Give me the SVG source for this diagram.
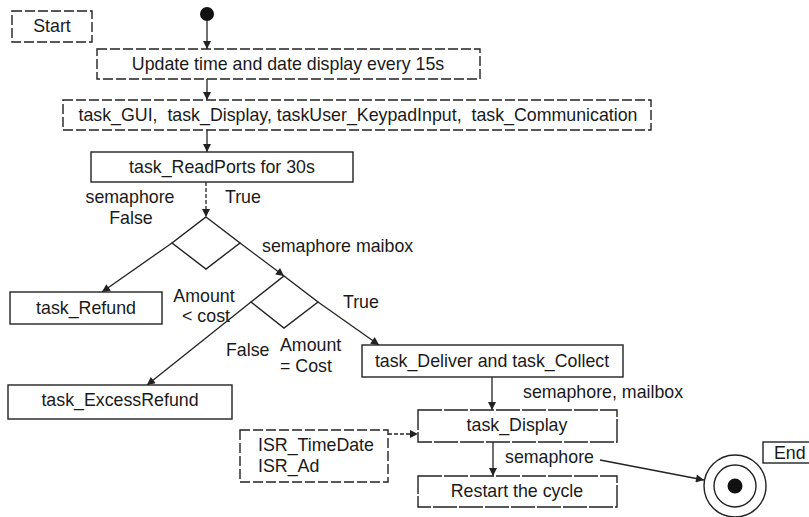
<svg xmlns="http://www.w3.org/2000/svg" width="809" height="517" viewBox="0 0 809 517">
<style>
text{font-family:"Liberation Sans",Arial,sans-serif;font-size:17.8px;fill:#1a1a1a}
.m{text-anchor:middle}
.box{fill:#fff;stroke:#222;stroke-width:1.4}
.dash{stroke-dasharray:10 3}
.ldash{stroke-dasharray:24 2}
.c{fill:none;stroke:#222;stroke-width:1.3}
.cd{stroke-dasharray:4 2}
.dia{fill:#fff;stroke:#222;stroke-width:1.4}
</style>
<defs>
<marker id="ah" viewBox="0 0 10 10" refX="10" refY="5" markerWidth="10" markerHeight="8" markerUnits="userSpaceOnUse" orient="auto">
<path d="M0,0 L10,5 L0,10 z" fill="#222"/>
</marker>
</defs>
<g id="connectors">
<line class="c" x1="207" y1="21" x2="207" y2="49" marker-end="url(#ah)"/>
<line class="c" x1="207" y1="79" x2="207" y2="100" marker-end="url(#ah)"/>
<line class="c" x1="207" y1="130" x2="207" y2="152" marker-end="url(#ah)"/>
<line class="c cd" x1="206" y1="182" x2="206" y2="217" marker-end="url(#ah)"/>
<line class="c" x1="172" y1="243" x2="102" y2="292" marker-end="url(#ah)"/>
<line class="c" x1="240" y1="243" x2="284" y2="276" marker-end="url(#ah)"/>
<line class="c" x1="318" y1="302" x2="379" y2="345" marker-end="url(#ah)"/>
<line class="c" x1="251" y1="302" x2="147" y2="385" marker-end="url(#ah)"/>
<line class="c" x1="492" y1="377" x2="492" y2="410" marker-end="url(#ah)"/>
<line class="c cd" x1="388" y1="434" x2="418" y2="434" marker-end="url(#ah)"/>
<line class="c" x1="493" y1="442" x2="493" y2="476" marker-end="url(#ah)"/>
<line class="c" x1="600" y1="460" x2="704" y2="480" marker-end="url(#ah)"/>
</g>
<g id="start">
<rect class="box dash" x="12" y="11" width="80" height="31"/>
<text class="m" x="52" y="32">Start</text>
</g>
<g id="initial">
<circle cx="207" cy="14" r="7" fill="#111"/>
</g>
<g id="update">
<rect class="box dash" x="97" y="49" width="383" height="30"/>
<text class="m" x="288" y="70">Update time and date display every 15s</text>
</g>
<g id="tasks">
<rect class="box dash" x="63" y="100" width="588" height="30"/>
<text class="m" x="358" y="121" style="white-space:pre">task_GUI,  task_Display, taskUser_KeypadInput,  task_Communication</text>
</g>
<g id="readports">
<rect class="box" x="91" y="152" width="262" height="30"/>
<text class="m" x="222" y="173">task_ReadPorts for 30s</text>
</g>
<g id="decision1">
<polygon class="dia" points="206,217 240,243 206,269 172,243"/>
<text class="m" x="130" y="203">semaphore</text>
<text class="m" x="131" y="224">False</text>
<text x="225" y="203">True</text>
<text x="262" y="252">semaphore maibox</text>
</g>
<g id="refund">
<rect class="box" x="10" y="292" width="152" height="32"/>
<text class="m" x="86" y="314">task_Refund</text>
</g>
<g id="decision2">
<polygon class="dia" points="284,276 318,302 284,328 251,302"/>
<text class="m" x="204" y="302">Amount</text>
<text class="m" x="206" y="322">&lt; cost</text>
<text x="343" y="308">True</text>
<text x="226" y="356">False</text>
<text x="280" y="351">Amount</text>
<text x="280" y="372">= Cost</text>
</g>
<g id="excessrefund">
<rect class="box" x="8" y="385" width="224" height="34"/>
<text class="m" x="120" y="406">task_ExcessRefund</text>
</g>
<g id="deliver">
<rect class="box" x="362" y="345" width="261" height="32"/>
<text class="m" x="492" y="367">task_Deliver and task_Collect</text>
<text x="523" y="398">semaphore, mailbox</text>
</g>
<g id="isr">
<rect class="box dash" x="240" y="430" width="148" height="52"/>
<text x="258" y="451">ISR_TimeDate</text>
<text x="258" y="472">ISR_Ad</text>
</g>
<g id="display">
<rect class="box ldash" x="418" y="410" width="199" height="32"/>
<text class="m" x="517" y="431">task_Display</text>
<text x="505" y="463">semaphore</text>
</g>
<g id="restart">
<rect class="box ldash" x="418" y="476" width="199" height="31"/>
<text class="m" x="517" y="497">Restart the cycle</text>
</g>
<g id="final">
<circle cx="735" cy="486" r="31" fill="#fff" stroke="#222" stroke-width="1.4"/>
<circle cx="735" cy="486" r="21" fill="none" stroke="#222" stroke-width="1.4"/>
<circle cx="735" cy="486" r="7.5" fill="#111"/>
</g>
<g id="end">
<rect class="box" x="763" y="442" width="52" height="21"/>
<text x="774" y="459">End</text>
</g>
</svg>
